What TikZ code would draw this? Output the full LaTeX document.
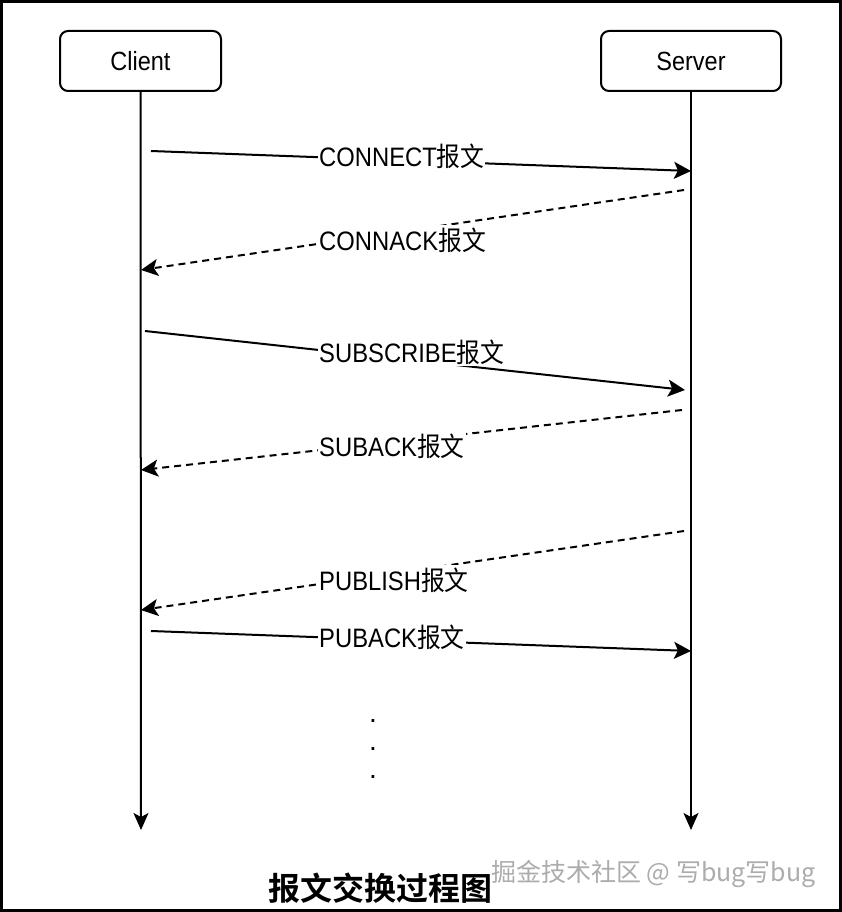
\documentclass[tikz,border=0pt]{standalone}
\usepackage{fontspec}
\usepackage{graphicx}
\setmainfont{Liberation Sans}
\newfontfamily\cjk{Noto Sans CJK SC}
\newfontfamily\cjkbold{Noto Sans CJK SC Bold}
\usetikzlibrary{arrows.meta}
\newcommand\tallbox[1]{\scalebox{1}[1.12]{#1}}
\newcommand\msgtxt[2]{\tallbox{#1{\cjk #2}}}
\tikzset{
  actor/.style={draw, line width=2pt, rounded corners=8pt, minimum height=60pt, inner sep=0pt, font=\fontsize{23.5}{26}\selectfont},
  lifeline/.style={line width=2pt, -{Stealth[length=17pt,width=15pt,inset=4pt]}},
  msgsolid/.style={line width=2pt, -{Stealth[length=17pt,width=17pt,inset=4pt]}},
  msgdash/.style={msgsolid, dash pattern=on 7pt off 5pt},
  msglabel/.style={fill=white, inner xsep=1pt, inner ysep=2pt, anchor=base west, font=\fontsize{23.8}{26}\selectfont},
  dotmark/.style={inner sep=0pt, anchor=base, font=\fontsize{28}{30}\selectfont},
}
\begin{document}
\begin{tikzpicture}[x=1pt,y=-1pt]
\useasboundingbox (0,0) rectangle (842,912);
\fill[white] (0,0) rectangle (842,912);
\draw[line width=3pt] (1.5,1.5) rectangle (840.5,910.5);

% actors
\node[actor, minimum width=161pt] (client) at (140.5,61) {\tallbox{Client}};
\node[actor, minimum width=180pt] (server) at (691,61) {\tallbox{Server}};
\coordinate (clientEnd) at (141,830);
\coordinate (serverEnd) at (691,830);
\draw[lifeline] (client.south) -- (clientEnd);
\draw[lifeline] (server.south) -- (serverEnd);

% message end points
\coordinate (m1s) at (151,151);  \coordinate (m1e) at (691,171);
\coordinate (m2s) at (684,190);  \coordinate (m2e) at (141,270);
\coordinate (m3s) at (145,331);  \coordinate (m3e) at (685,390);
\coordinate (m4s) at (682,410);  \coordinate (m4e) at (141,470);
\coordinate (m5s) at (684,531);  \coordinate (m5e) at (141,610);
\coordinate (m6s) at (151,631);  \coordinate (m6e) at (691,651);

\draw[msgsolid] (m1s) -- (m1e);
\draw[msgdash]  (m2s) -- (m2e);
\draw[msgsolid] (m3s) -- (m3e);
\draw[msgdash]  (m4s) -- (m4e);
\draw[msgdash]  (m5s) -- (m5e);
\draw[msgsolid] (m6s) -- (m6e);

\node[msglabel] (l1) at (318,167) {\msgtxt{CONNECT}{报文}};
\node[msglabel] (l2) at (318,250) {\msgtxt{CONNACK}{报文}};
\node[msglabel] (l3) at (318,362) {\msgtxt{SUBSCRIBE}{报文}};
\node[msglabel] (l4) at (318,456) {\msgtxt{SUBACK}{报文}};
\node[msglabel] (l5) at (318,590) {\msgtxt{PUBLISH}{报文}};
\node[msglabel] (l6) at (318,647) {\msgtxt{PUBACK}{报文}};

% ellipsis dots
\node[dotmark] (d1) at (373,722) {.};
\node[dotmark] (d2) at (373,750) {.};
\node[dotmark] (d3) at (373,778) {.};

% title and watermark
\node[font=\cjkbold\fontsize{32}{36}\selectfont, inner sep=0pt] (title) at (380,888) {报文交换过程图};
\node[font=\cjk\fontsize{25}{28}\selectfont, text=gray!65, inner sep=0pt, anchor=base west] (wm) at (491,881) {掘金技术社区 @ 写bug写bug};
\end{tikzpicture}
\end{document}
